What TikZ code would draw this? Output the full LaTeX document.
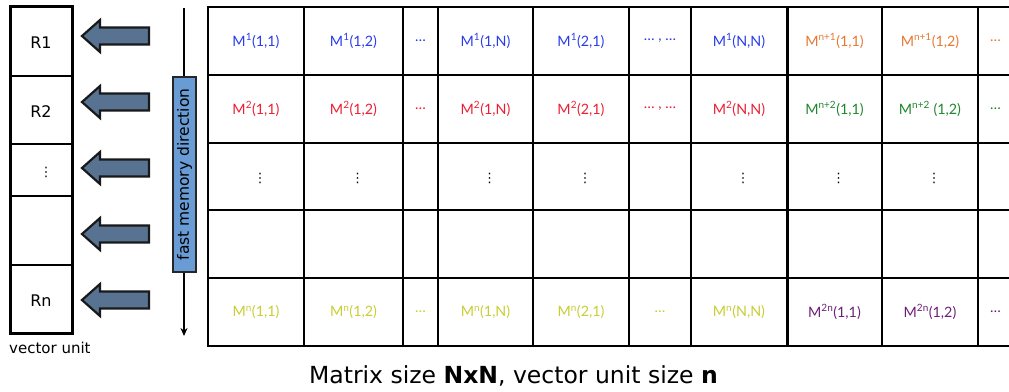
\documentclass[tikz,border=0pt]{standalone}
\usepackage{fontspec}
\setmainfont{DejaVu Sans}
\newfontfamily\cellfont{Lato}
\newfontfamily\dotfont{DejaVu Sans}
\usetikzlibrary{arrows.meta}
\definecolor{mblue}{RGB}{40,60,235}
\definecolor{mred}{RGB}{235,30,50}
\definecolor{morange}{RGB}{230,120,50}
\definecolor{mgreen}{RGB}{30,135,45}
\definecolor{myellow}{RGB}{200,205,50}
\definecolor{mpurple}{RGB}{110,30,120}
\definecolor{arrowfill}{RGB}{88,115,145}
\definecolor{fmfill}{RGB}{105,155,212}
\begin{document}
\begin{tikzpicture}[x=1pt,y=-1pt,
  cellbox/.style={draw=black,line width=1.5pt,inner sep=0pt,outer sep=0pt},
  vubox/.style={draw=black,line width=1.2pt,inner sep=0pt,outer sep=0pt,minimum width=62pt},
  lbl/.style={inner sep=0pt,font=\cellfont\fontsize{14.3}{16}\selectfont},
  reglbl/.style={inner sep=0pt,font=\fontsize{16}{18}\selectfont},
  blockarrow/.style={draw=black!90,line width=2.2pt,fill=arrowfill,line join=miter},
  fmbox/.style={draw=black!85,line width=1.2pt,fill=fmfill,minimum width=195pt,minimum height=23pt,inner sep=0pt,font=\fontsize{15.5}{17}\selectfont},
  vd/.style={inner sep=0pt,font=\dotfont\fontsize{13}{14}\selectfont}
]
\useasboundingbox (0,0) rectangle (1009,391);

% ---------- matrix grid ----------
\foreach \c/\l/\r in {1/208/304,2/304/403,3/403/438,4/438/533,5/533/629,6/629/691,7/691/787,8/787/882,9/882/978,10/978/1074}{
  \foreach \rr/\t/\b in {1/7/75,2/75/143,3/143/210,4/210/278,5/278/346}{
    \node[cellbox,minimum width={\r-\l},minimum height={\b-\t}] (m-\rr-\c) at ({(\l+\r)/2},{(\t+\b)/2}) {};
  }
}
\draw[line width=3pt] (m-1-8.north west) -- (m-5-8.south west);

% row 1 (blue)
\node[lbl,text=mblue] (t-1-1) at (m-1-1) {M\textsuperscript{1}(1,1)};
\node[lbl,text=mblue] (t-1-2) at (m-1-2) {M\textsuperscript{1}(1,2)};
\node[lbl,text=mblue] (t-1-3) at (m-1-3) {…};
\node[lbl,text=mblue] (t-1-4) at (m-1-4) {M\textsuperscript{1}(1,N)};
\node[lbl,text=mblue] (t-1-5) at (m-1-5) {M\textsuperscript{1}(2,1)};
\node[lbl,text=mblue] (t-1-6) at (m-1-6) {… , …};
\node[lbl,text=mblue] (t-1-7) at (m-1-7) {M\textsuperscript{1}(N,N)};
\node[lbl,text=morange] (t-1-8) at (m-1-8) {M\textsuperscript{n+1}(1,1)};
\node[lbl,text=morange] (t-1-9) at (m-1-9) {M\textsuperscript{n+1}(1,2)};
\node[lbl,text=morange,anchor=west] (t-1-10) at ([xshift=12pt]m-1-10.west) {…};
% row 2 (red / green)
\node[lbl,text=mred] (t-2-1) at (m-2-1) {M\textsuperscript{2}(1,1)};
\node[lbl,text=mred] (t-2-2) at (m-2-2) {M\textsuperscript{2}(1,2)};
\node[lbl,text=mred] (t-2-3) at (m-2-3) {…};
\node[lbl,text=mred] (t-2-4) at (m-2-4) {M\textsuperscript{2}(1,N)};
\node[lbl,text=mred] (t-2-5) at (m-2-5) {M\textsuperscript{2}(2,1)};
\node[lbl,text=mred] (t-2-6) at (m-2-6) {… , …};
\node[lbl,text=mred] (t-2-7) at (m-2-7) {M\textsuperscript{2}(N,N)};
\node[lbl,text=mgreen] (t-2-8) at (m-2-8) {M\textsuperscript{n+2}(1,1)};
\node[lbl,text=mgreen] (t-2-9) at (m-2-9) {M\textsuperscript{n+2} (1,2)};
\node[lbl,text=mgreen,anchor=west] (t-2-10) at ([xshift=12pt]m-2-10.west) {…};
% row 3 (vertical dots)
\foreach \c in {1,2,4,5,7,8,9}{
  \node[vd] (t-3-\c) at ([xshift=4pt,yshift=-2pt]m-3-\c) {⋮};
}
% row 5 (yellow / purple)
\node[lbl,text=myellow] (t-5-1) at (m-5-1) {M\textsuperscript{n}(1,1)};
\node[lbl,text=myellow] (t-5-2) at (m-5-2) {M\textsuperscript{n}(1,2)};
\node[lbl,text=myellow] (t-5-3) at (m-5-3) {…};
\node[lbl,text=myellow] (t-5-4) at (m-5-4) {M\textsuperscript{n}(1,N)};
\node[lbl,text=myellow] (t-5-5) at (m-5-5) {M\textsuperscript{n}(2,1)};
\node[lbl,text=myellow] (t-5-6) at (m-5-6) {…};
\node[lbl,text=myellow] (t-5-7) at (m-5-7) {M\textsuperscript{n}(N,N)};
\node[lbl,text=mpurple] (t-5-8) at (m-5-8) {M\textsuperscript{2n}(1,1)};
\node[lbl,text=mpurple] (t-5-9) at (m-5-9) {M\textsuperscript{2n}(1,2)};
\node[lbl,text=mpurple,anchor=west] (t-5-10) at ([xshift=12pt]m-5-10.west) {…};

% ---------- vector unit ----------
\foreach \rr/\t/\b in {1/6/76,2/76/144,3/144/196,4/196/265,5/265/333}{
  \node[vubox,minimum height={\b-\t}] (vu-\rr) at (41,{(\t+\b)/2}) {};
}
\draw[line width=3pt] (vu-1.north west) rectangle (vu-5.south east);
\node[reglbl] (r1) at ([yshift=-2pt]vu-1) {R1};
\node[reglbl] (r2) at ([yshift=-2pt]vu-2) {R2};
\node[vd] (r3) at ([xshift=5pt,yshift=-2pt]vu-3) {⋮};
\node[reglbl] (rn) at ([yshift=-2pt]vu-5) {Rn};
\node[inner sep=0pt,anchor=west,font=\fontsize{15}{17}\selectfont] (vulabel) at (9,348) {vector unit};

% ---------- block arrows ----------
\foreach \cy in {36,102,168,234,300}{
  \draw[blockarrow] (82,\cy) -- (100,\cy-16) -- (100,\cy-8.5) -- (149,\cy-8.5)
    -- (149,\cy+8.5) -- (100,\cy+8.5) -- (100,\cy+16) -- cycle;
}

% ---------- fast memory direction ----------
\coordinate (fmtop) at (184,8);
\coordinate (fmbot) at (184,336);
\draw[line width=1.3pt,-{Stealth[length=8pt,width=7pt]}] (fmtop) -- (fmbot);
\node[fmbox,rotate=90] (fm) at (184.5,174.5) {fast memory direction};

% ---------- caption ----------
\node[inner sep=0pt,font=\fontsize{23.5}{26}\selectfont] (caption) at (513.5,376)
  {Matrix size \textbf{NxN}, vector unit size \textbf{n}};
\end{tikzpicture}
\end{document}
